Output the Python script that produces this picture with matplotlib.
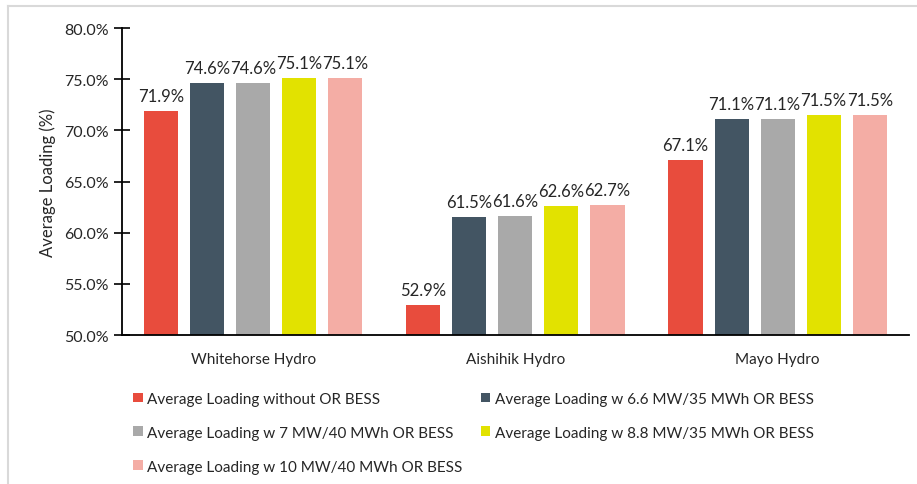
import numpy as np
import matplotlib.pyplot as plt
from matplotlib.lines import Line2D
from matplotlib.ticker import FuncFormatter

plt.rcParams['font.family'] = ['Lato', 'DejaVu Sans']

plants = ["Whitehorse Hydro", "Aishihik Hydro", "Mayo Hydro"]
series_names = [
    "Average Loading without OR BESS",
    "Average Loading w 6.6 MW/35 MWh OR BESS",
    "Average Loading w 7 MW/40 MWh OR BESS",
    "Average Loading w 8.8 MW/35 MWh OR BESS",
    "Average Loading w 10 MW/40 MWh OR BESS",
]
without_bess = [71.9, 52.9, 67.1]
bess_6_6_35 = [74.6, 61.5, 71.1]
bess_7_40 = [74.6, 61.6, 71.1]
bess_8_8_35 = [75.1, 62.6, 71.5]
bess_10_40 = [75.1, 62.7, 71.5]
colors = ["#E84C3D", "#435563", "#A9A9A9", "#E2E200", "#F4ADA5"]

series = [without_bess, bess_6_6_35, bess_7_40, bess_8_8_35, bess_10_40]

fig = plt.figure(figsize=(9.17, 4.85), dpi=100)
ax = fig.add_axes([0.133, 0.307, 0.858, 0.633])

x = np.arange(len(plants))
width = 0.13
step = 0.1756
for i, (vals, name, c) in enumerate(zip(series, series_names, colors)):
    pos = x + (i - 2) * step
    bars = ax.bar(pos, vals, width, color=c, label=name)
    for b, v in zip(bars, vals):
        ax.annotate(f"{v:.1f}%", (b.get_x() + b.get_width() / 2, v),
                    xytext=(0, 5), textcoords="offset points",
                    ha="center", va="bottom", fontsize=12, color="#262626")

ax.set_xlim(-0.5, 2.5)
ax.set_ylim(50, 80)
ax.set_yticks(np.arange(50, 80.1, 5))
ax.yaxis.set_major_formatter(FuncFormatter(lambda v, p: f"{v:.1f}%"))
ax.set_xticks(x)
ax.set_xticklabels(plants)
ax.tick_params(axis="x", length=0, pad=12, labelsize=11, labelcolor="#262626")
ax.tick_params(axis="y", direction="inout", length=11, width=1.2,
               labelsize=11.5, labelcolor="#262626", pad=4)
ax.set_ylabel("Average Loading (%)", fontsize=12, color="#262626", labelpad=6)

for s in ["top", "right"]:
    ax.spines[s].set_visible(False)
for s in ["left", "bottom"]:
    ax.spines[s].set_linewidth(1.3)
    ax.spines[s].set_color("black")

# legend fills row by row: reorder for matplotlib's column-first layout
handles, labels = ax.get_legend_handles_labels()
order = [0, 2, 4, 1, 3]
ax.legend([handles[k] for k in order], [labels[k] for k in order],
          loc="upper left", bbox_to_anchor=(-0.003, -0.14), ncol=2,
          frameon=False, fontsize=11, handlelength=0.6, handleheight=0.6,
          handletextpad=0.3, columnspacing=1.2, labelspacing=1.3,
          labelcolor="#262626")

# light outer frame
fig.add_artist(Line2D([8 / 917, 8 / 917], [0, 1 - 7 / 485],
                      color="#D9D9D9", lw=1.5, transform=fig.transFigure))
fig.add_artist(Line2D([8 / 917, 1], [1 - 7 / 485, 1 - 7 / 485],
                      color="#D9D9D9", lw=1.5, transform=fig.transFigure))

fig.savefig("out.png", dpi=100)
